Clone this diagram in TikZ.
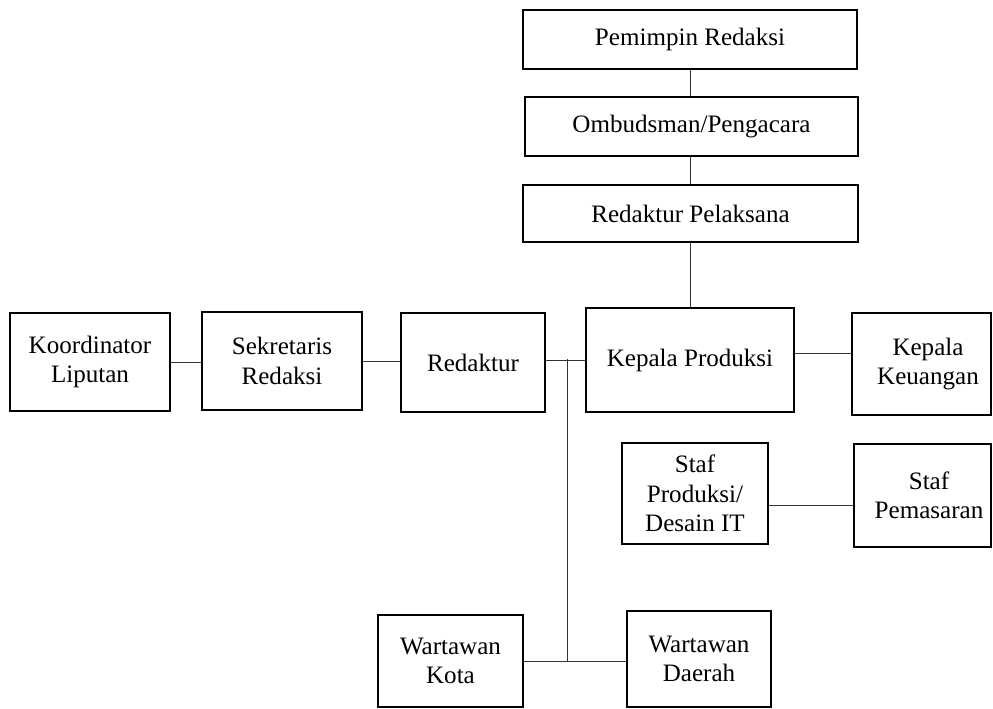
\documentclass[tikz,border=0pt]{standalone}
\usepackage{fontspec}
\setmainfont{Liberation Serif}
\usetikzlibrary{positioning}

\tikzset{
  box/.style={draw, line width=1.4pt, align=center, inner sep=0pt,
    font=\fontsize{18.8}{22}\selectfont},
  link/.style={line width=0.7pt, black!80}
}

\begin{document}
\begin{tikzpicture}[x=0.75pt,y=-0.75pt]
        \useasboundingbox (0,0) rectangle (993,708);

        % Pimpinan
        \node[box, minimum width=250.5pt, minimum height=44.25pt] (pemimpin) at (690,39.5) {Pemimpin Redaksi};
        \node[box, minimum width=249.75pt, minimum height=44.25pt] (ombudsman) at (691.5,126.5) {Ombudsman/Pengacara};
        \node[box, minimum width=251.25pt, minimum height=42.75pt] (pelaksana) at (690.5,213.5) {Redaktur Pelaksana};

        % Baris tengah
        \node[box, minimum width=120pt, minimum height=73.5pt] (koordinator) at (90,362) {Koordinator\\Liputan};
        \node[box, minimum width=120pt, minimum height=73.5pt] (sekretaris) at (282,361) {Sekretaris\\Redaksi};
        \node[box, minimum width=108pt, minimum height=74.25pt] (redaktur) at (473,362.5) {Redaktur};
        \node[box, minimum width=156pt, minimum height=78pt] (produksi) at (690,360) {Kepala Produksi};
        \node[box, minimum width=104.25pt, minimum height=76.5pt] (keuangan) at (921.5,364) {\hspace*{9.75pt}Kepala\\\hspace*{9.75pt}Keuangan};

        % Staf
        \node[box, minimum width=109.5pt, minimum height=75.75pt] (stafprod) at (695,493.5) {Staf\\Produksi/\\Desain IT};
        \node[box, minimum width=102.75pt, minimum height=77.25pt] (stafpem) at (922.5,495.5) {\hspace*{9.75pt}Staf\\\hspace*{9.75pt}Pemasaran};

        % Wartawan
        \node[box, minimum width=108.75pt, minimum height=69pt] (kota) at (450.5,661) {Wartawan\\Kota};
        \node[box, minimum width=108pt, minimum height=72pt] (daerah) at (699,659) {Wartawan\\Daerah};

        \coordinate (jt) at (567,359);
        \coordinate (kpr) at ([yshift=5.25pt]produksi.east);
        \coordinate (spr) at ([yshift=-8.6pt]stafprod.east);

        \draw[link] (pemimpin.south) -- (pemimpin.south |- ombudsman.north)
              (ombudsman.south -| pemimpin.south) -- (pemimpin.south |- pelaksana.north)
              (pelaksana.south -| pemimpin.south) -- (pemimpin.south |- produksi.north)
              (koordinator.east) -- (koordinator.east -| sekretaris.west)
              (sekretaris.east) -- (sekretaris.east -| redaktur.west)
              (produksi.west -| redaktur.east) -- (produksi.west)
              (kpr) -- (kpr -| keuangan.west)
              (spr) -- (spr -| stafpem.west)
              (jt) -- (jt |- kota.east)
              (kota.east) -- (kota.east -| daerah.west);

    \end{tikzpicture}
\end{document}
